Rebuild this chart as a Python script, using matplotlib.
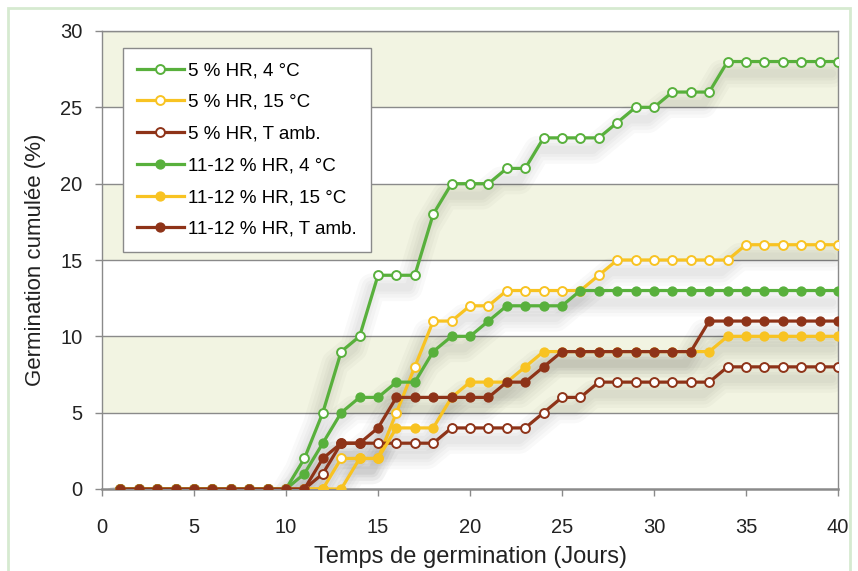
import numpy as np
import matplotlib
matplotlib.use("Agg")
import matplotlib.pyplot as plt
from matplotlib.patches import Rectangle
from matplotlib.transforms import ScaledTranslation

plt.rcParams['font.family'] = ['Liberation Sans', 'DejaVu Sans']

# Germination data, one value per day (1..40)
days = np.arange(1, 41)

hr5_4c = [0] * 10 + [2, 5, 9, 10, 14, 14, 14, 18, 20, 20, 20, 21, 21, 23, 23, 23, 23, 24,
                     25, 25, 26, 26, 26] + [28] * 7
hr5_15c = [0] * 12 + [2, 2, 2, 5, 8, 11, 11, 12, 12, 13, 13, 13, 13, 13, 14] + [15] * 7 + [16] * 6
hr5_amb = [0] * 11 + [1, 3, 3, 3, 3, 3, 3] + [4] * 5 + [5, 6, 6] + [7] * 7 + [8] * 7
hr11_4c = [0] * 10 + [1, 3, 5, 6, 6, 7, 7, 9, 10, 10, 11] + [12] * 4 + [13] * 15
hr11_15c = [0] * 13 + [2, 2, 4, 4, 4, 6, 7, 7, 7, 8] + [9] * 10 + [10] * 7
hr11_amb = [0] * 11 + [2, 3, 3, 4] + [6] * 6 + [7, 7, 8] + [9] * 8 + [11] * 8

labels = ['5 % HR, 4 °C', '5 % HR, 15 °C', '5 % HR, T amb.',
          '11-12 % HR, 4 °C', '11-12 % HR, 15 °C', '11-12 % HR, T amb.']
series = [hr5_4c, hr5_15c, hr5_amb, hr11_4c, hr11_15c, hr11_amb]

green = '#58B03C'
yellow = '#F8C322'
brown = '#8E3318'
colors = [green, yellow, brown, green, yellow, brown]
filled = [False, False, False, True, True, True]

fig = plt.figure(figsize=(8.58, 5.71), dpi=100)
ax = fig.add_axes([102 / 858, 1 - 489 / 571, 736 / 858, 458 / 571])

# light green frame around the figure
fig.patches.append(Rectangle((8 / 858, -0.2), 842 / 858, 1.2 - 8 / 571, transform=fig.transFigure,
                             fill=False, edgecolor='#D6EAD0', linewidth=2.0))

# alternating background bands
for lo in (5, 15, 25):
    ax.axhspan(lo, lo + 5, color='#F2F4E2', zorder=0, lw=0)
for yv in range(5, 31, 5):
    ax.axhline(yv, color='#8A8A8A', lw=1.0, zorder=1)

# soft shadows under the lines (stacked translucent strokes)
shadow = ax.transData + ScaledTranslation(-6 / 100, -12 / 100, fig.dpi_scale_trans)
for vals in series:
    for lw in (20, 15, 10, 6):
        ax.plot(days, vals, color='black', lw=lw, alpha=0.022, transform=shadow,
                solid_capstyle='round', solid_joinstyle='round', zorder=2)

for vals, c, f, lab in zip(series, colors, filled, labels):
    if f:
        ax.plot(days, vals, color=c, lw=2.3, marker='o', ms=6.4, mfc=c, mec=c, mew=1.0,
                label=lab, zorder=3)
    else:
        ax.plot(days, vals, color=c, lw=2.3, marker='o', ms=6.4, mfc='white', mec=c, mew=1.4,
                label=lab, zorder=3)

ax.set_xlim(0, 40)
ax.set_ylim(0, 30)
ax.set_xticks(range(0, 41, 5))
ax.set_yticks(range(0, 31, 5))
ax.tick_params(axis='both', labelsize=14.5, colors='#222222', length=5, width=1)
ax.tick_params(axis='x', color='#8A8A8A', pad=16)
ax.tick_params(axis='y', color='#8A8A8A', pad=9)
for s in ax.spines.values():
    s.set_color('#8A8A8A')
    s.set_linewidth(1.0)
ax.spines['bottom'].set_linewidth(1.8)

ax.set_xlabel('Temps de germination (Jours)', fontsize=17, color='#222222', labelpad=6)
ax.set_ylabel('Germination cumulée (%)', fontsize=16, color='#222222', labelpad=10)

leg = ax.legend(loc='upper left', bbox_to_anchor=(0.028, 0.963), fontsize=13.5,
                handlelength=2.5, handletextpad=0.25, labelspacing=0.78, borderpad=0.75,
                borderaxespad=0, frameon=True, fancybox=False)
leg.get_frame().set_edgecolor('#8A8A8A')
leg.get_frame().set_linewidth(1.0)
leg.get_frame().set_facecolor('white')
leg.get_frame().set_alpha(1)

fig.savefig('out.png', dpi=100)
